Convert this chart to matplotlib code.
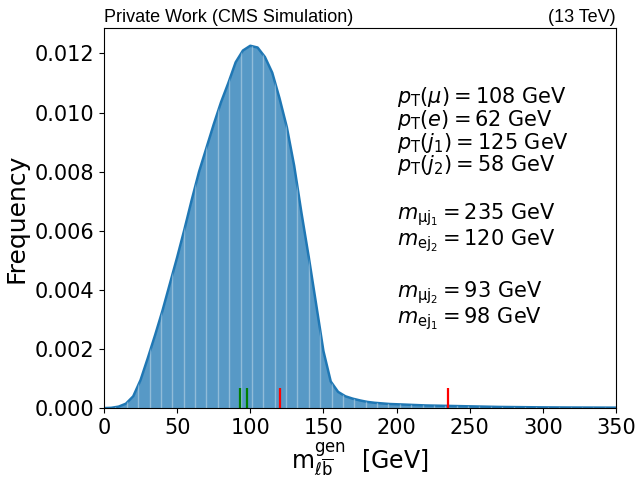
import numpy as np
import matplotlib
matplotlib.use("Agg")
import matplotlib.pyplot as plt

# generator-level m(l b) distribution
mass = [0, 5, 10, 15, 20, 25, 30, 35, 40, 45, 50, 55, 60, 65, 70, 75, 80, 85,
        90, 95, 100, 105, 110, 115, 120, 125, 130, 135, 140, 145, 150, 155,
        160, 165, 170, 175, 180, 185, 190, 195, 200, 210, 220, 230, 240, 250,
        260, 270, 280, 290, 300, 320, 350]
freq = [0.0, 0.00001, 0.00005, 0.00015, 0.00040, 0.00095, 0.00170, 0.00248,
        0.00330, 0.00420, 0.00510, 0.00605, 0.00705, 0.00800, 0.00880,
        0.00960, 0.01035, 0.01100, 0.01170, 0.01210, 0.01226, 0.01220,
        0.01188, 0.01135, 0.01048, 0.00950, 0.00820, 0.00660, 0.00510,
        0.00352, 0.00193, 0.00090, 0.00055, 0.00040, 0.00032, 0.00026,
        0.00021, 0.00018, 0.00016, 0.00014, 0.00013, 0.00011, 0.00009,
        0.00008, 0.00007, 0.00006, 0.00005, 0.00004, 0.000035, 0.00003,
        0.000025, 0.00002, 0.000015]

# reconstructed pair masses marked at the bottom
good_pairs = [93, 98]      # m_mu j2, m_e j1
bad_pairs = [120, 235]     # m_e j2, m_mu j1
marker_height = 0.00068

info_lines = [
    r"$p_\mathrm{T}(\mu) = 108$ GeV",
    r"$p_\mathrm{T}(e) = 62$ GeV",
    r"$p_\mathrm{T}(j_1) = 125$ GeV",
    r"$p_\mathrm{T}(j_2) = 58$ GeV",
    r"$m_{\mathrm{\mu j_1}} = 235$ GeV",
    r"$m_{\mathrm{e j_2}} = 120$ GeV",
    r"$m_{\mathrm{\mu j_2}} = 93$ GeV",
    r"$m_{\mathrm{e j_1}} = 98$ GeV",
]
# baselines in axes fraction
info_y = [0.802, 0.742, 0.682, 0.624, 0.497, 0.429, 0.290, 0.223]

fig, ax = plt.subplots(figsize=(6.36, 4.79), dpi=100)

fill = ax.fill_between(mass, freq, color="#1f77b4", alpha=0.75, lw=0)
ax.plot(mass, freq, color="#1f77b4", lw=1.8)

# light bin edges seen through the fill
edges = np.linspace(0, 350, 46)
vl = ax.vlines(edges, 0, 0.013, colors="white", lw=1.0, alpha=0.35)
vl.set_clip_path(fill.get_paths()[0], ax.transData)

ax.vlines(good_pairs, 0, marker_height, colors="green", lw=1.6)
ax.vlines(bad_pairs, 0, marker_height, colors="red", lw=1.6)

for line, y in zip(info_lines, info_y):
    ax.text(0.5714, y, line, fontsize=15, va="baseline", ha="left",
            transform=ax.transAxes)

ax.set_xlim(0, 350)
ax.set_ylim(0, 0.01286)
ax.set_xticks(np.arange(0, 351, 50))
ax.set_yticks(np.arange(0, 0.0121, 0.002))
ax.yaxis.set_major_formatter(matplotlib.ticker.FormatStrFormatter("%.3f"))
ax.tick_params(labelsize=15)
ax.set_ylabel("Frequency", fontsize=18)
ax.set_xlabel(r"$\mathrm{m}^{\mathrm{gen}}_{\ell\overline{\mathrm{b}}}$  [GeV]",
              fontsize=17, labelpad=2)

ax.text(0, 1.006, "Private Work (CMS Simulation)", transform=ax.transAxes,
        fontsize=13, family="Liberation Sans", ha="left", va="bottom")
ax.text(1, 1.006, "(13 TeV)", transform=ax.transAxes,
        fontsize=13, family="Liberation Sans", ha="right", va="bottom")

fig.subplots_adjust(left=0.1635, right=0.9686, bottom=0.148, top=0.9415)
fig.savefig("out.png", dpi=100)
